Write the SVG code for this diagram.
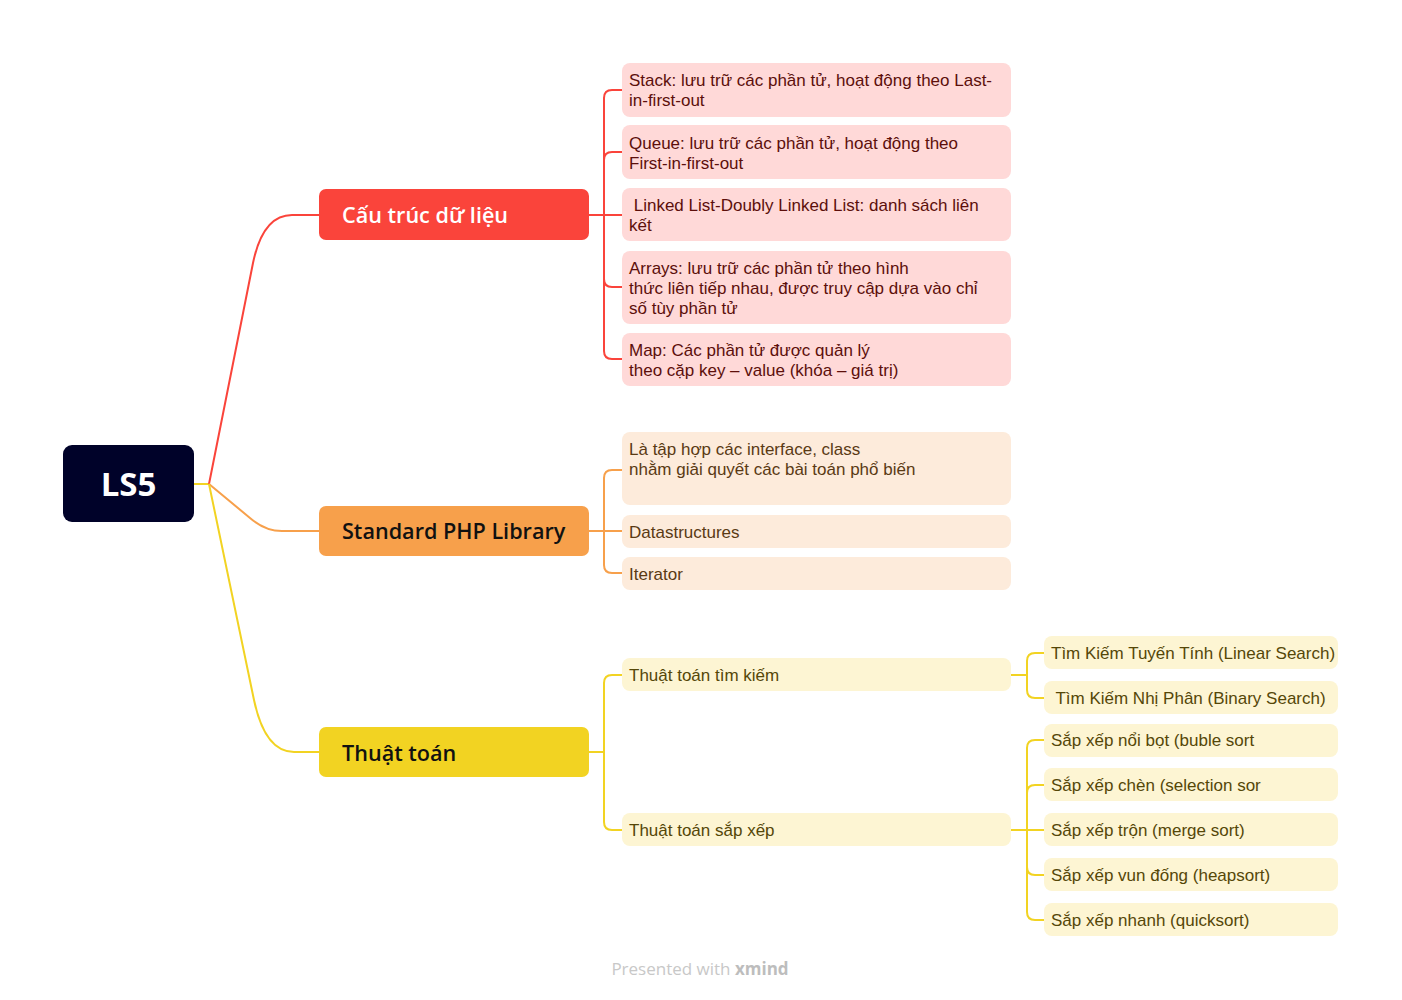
<svg xmlns="http://www.w3.org/2000/svg" width="1402" height="1000" viewBox="0 0 1402 1000">
<style>
text{font-family:"Open Sans","Liberation Sans",sans-serif;}
.t{font-family:"Liberation Sans",Arial,sans-serif;font-size:17px;}
.m{font-size:21.6px;font-weight:600;}
.red{fill:#FFD9D8;}
.redt{fill:#5C0F0B;}
.org{fill:#FDEBDB;}
.orgt{fill:#5A3A14;}
.yel{fill:#FDF5D3;}
.yelt{fill:#554708;}
.cr{fill:none;stroke:#FA443B;stroke-width:2;}
.co{fill:none;stroke:#F7A04B;stroke-width:2;}
.cy{fill:none;stroke:#F2D322;stroke-width:2;}
</style>
<rect width="1402" height="1000" fill="#FFFFFF"/>
<g id="connectors">
<path class="cy" d="M194 484 L209 484"/>
<path class="cr" d="M209 484 L253 263 Q263 215 292 215 L319 215"/>
<path class="co" d="M209 484 L250 518 Q265 531 282 531 L319 531"/>
<path class="cy" d="M209 484 L254 700 Q265 752 294 752 L319 752"/>
<path class="cr" d="M589 215 L622 215 M622 90 L612 90 Q604 90 604 98 L604 351 Q604 359 612 359 L622 359 M622 152 L612 152 Q604 152 604 160 M622 287 L612 287 Q604 287 604 279"/>
<path class="co" d="M589 531 L622 531 M622 470 L612 470 Q604 470 604 478 L604 565 Q604 573 612 573 L622 573"/>
<path class="cy" d="M589 752 L604 752 M622 675 L612 675 Q604 675 604 683 L604 822 Q604 830 612 830 L622 830"/>
<path class="cy" d="M1011 675 L1027 675 M1044 653 L1035 653 Q1027 653 1027 661 L1027 690 Q1027 698 1035 698 L1044 698"/>
<path class="cy" d="M1011 830 L1044 830 M1044 740 L1035 740 Q1027 740 1027 748 L1027 912 Q1027 920 1035 920 L1044 920 M1044 785 L1035 785 Q1027 785 1027 793 M1044 875 L1035 875 Q1027 875 1027 867"/>
</g>
<g id="root">
<rect x="63" y="445" width="131" height="77" rx="9" fill="#000229"/>
<text x="128.5" y="496" text-anchor="middle" font-size="33" font-weight="700" fill="#FFFFFF">LS5</text>
</g>
<g id="n-cautruc">
<rect x="319" y="189" width="270" height="51" rx="7" fill="#FA443B"/>
<text x="342" y="223" class="m" fill="#FFFFFF">Cấu trúc dữ liệu</text>
</g>
<g id="n-spl">
<rect x="319" y="506" width="270" height="50" rx="7" fill="#F7A04B"/>
<text x="342" y="539" class="m" fill="#111111">Standard PHP Library</text>
</g>
<g id="n-thuattoan">
<rect x="319" y="727" width="270" height="50" rx="7" fill="#F2D322"/>
<text x="342" y="761" class="m" fill="#111111">Thuật toán</text>
</g>
<g id="n-stack">
<rect x="622" y="63" width="389" height="54" rx="8" class="red"/>
<text class="t redt" x="629" y="86">Stack: lưu trữ các phần tử, hoạt động theo Last-<tspan x="629" dy="20">in-first-out</tspan></text>
</g>
<g id="n-queue">
<rect x="622" y="125" width="389" height="54" rx="8" class="red"/>
<text class="t redt" x="629" y="149">Queue: lưu trữ các phần tử, hoạt động theo<tspan x="629" dy="20">First-in-first-out</tspan></text>
</g>
<g id="n-linked">
<rect x="622" y="188" width="389" height="53" rx="8" class="red"/>
<text class="t redt" x="629" y="211" xml:space="preserve"> Linked List-Doubly Linked List: danh sách liên<tspan x="629" dy="20">kết</tspan></text>
</g>
<g id="n-arrays">
<rect x="622" y="251" width="389" height="73" rx="8" class="red"/>
<text class="t redt" x="629" y="274">Arrays: lưu trữ các phần tử theo hình<tspan x="629" dy="20">thức liên tiếp nhau, được truy cập dựa vào chỉ</tspan><tspan x="629" dy="20">số tùy phần tử</tspan></text>
</g>
<g id="n-map">
<rect x="622" y="333" width="389" height="53" rx="8" class="red"/>
<text class="t redt" x="629" y="356">Map: Các phần tử được quản lý<tspan x="629" dy="20">theo cặp key – value (khóa – giá trị)</tspan></text>
</g>
<g id="n-la">
<rect x="622" y="432" width="389" height="73" rx="8" class="org"/>
<text class="t orgt" x="629" y="455">Là tập hợp các interface, class<tspan x="629" dy="20">nhằm giải quyết các bài toán phổ biến</tspan></text>
</g>
<g id="n-ds">
<rect x="622" y="515" width="389" height="33" rx="8" class="org"/>
<text class="t orgt" x="629" y="538">Datastructures</text>
</g>
<g id="n-iter">
<rect x="622" y="557" width="389" height="33" rx="8" class="org"/>
<text class="t orgt" x="629" y="580">Iterator</text>
</g>
<g id="n-timkiem">
<rect x="622" y="658" width="389" height="33" rx="8" class="yel"/>
<text class="t yelt" x="629" y="681">Thuật toán tìm kiếm</text>
</g>
<g id="n-sapxep">
<rect x="622" y="813" width="389" height="33" rx="8" class="yel"/>
<text class="t yelt" x="629" y="836">Thuật toán sắp xếp</text>
</g>
<g id="n-linear">
<rect x="1044" y="636" width="294" height="33" rx="8" class="yel"/>
<text class="t yelt" x="1051" y="659">Tìm Kiếm Tuyến Tính (Linear Search)</text>
</g>
<g id="n-binary">
<rect x="1044" y="681" width="294" height="33" rx="8" class="yel"/>
<text class="t yelt" x="1051" y="704" xml:space="preserve"> Tìm Kiếm Nhị Phân (Binary Search)</text>
</g>
<g id="n-bubble">
<rect x="1044" y="724" width="294" height="33" rx="8" class="yel"/>
<text class="t yelt" x="1051" y="746">Sắp xếp nổi bọt (buble sort</text>
</g>
<g id="n-selection">
<rect x="1044" y="768" width="294" height="33" rx="8" class="yel"/>
<text class="t yelt" x="1051" y="791">Sắp xếp chèn (selection sor</text>
</g>
<g id="n-merge">
<rect x="1044" y="813" width="294" height="33" rx="8" class="yel"/>
<text class="t yelt" x="1051" y="836">Sắp xếp trộn (merge sort)</text>
</g>
<g id="n-heap">
<rect x="1044" y="858" width="294" height="33" rx="8" class="yel"/>
<text class="t yelt" x="1051" y="881">Sắp xếp vun đống (heapsort)</text>
</g>
<g id="n-quick">
<rect x="1044" y="903" width="294" height="33" rx="8" class="yel"/>
<text class="t yelt" x="1051" y="926">Sắp xếp nhanh (quicksort)</text>
</g>
<g id="footer">
<text x="700" y="975" text-anchor="middle" font-size="17" fill="#C8C8C8">Presented with <tspan font-weight="700" fill="#BDBDBD">xmind</tspan></text>
</g>
</svg>
